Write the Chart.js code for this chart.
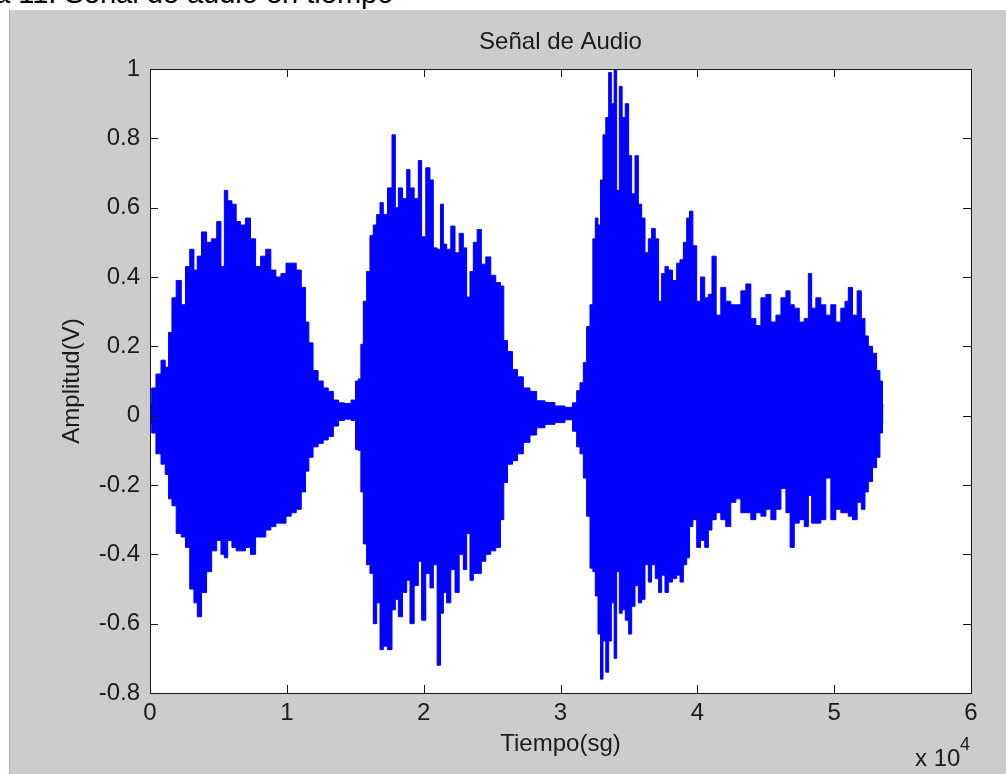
<!DOCTYPE html>
<html lang="es">
<head>
<meta charset="utf-8">
<title>Señal de Audio</title>
<script src="https://cdn.jsdelivr.net/npm/chart.js@4.4.1/dist/chart.umd.min.js"></script>
<style>
  html, body { margin: 0; padding: 0; background: #fff; }
  body { width: 1006px; height: 774px; position: relative; overflow: hidden; font-family: "Liberation Sans", Arial, sans-serif; }
  #caption { position: absolute; left: -6px; top: -21px; font-size: 29px; line-height: 29px; white-space: nowrap; color: #000; }
  #edge { position: absolute; left: 9px; top: 10px; width: 1px; height: 764px; background: #a8b096; }
  #panel { position: absolute; left: 10px; top: 10px; width: 996px; height: 764px; background: #cccccc; }
  #chart { position: absolute; left: 0; top: 0; }
  .exp { position: absolute; color: #1a1a1a; white-space: nowrap; }
  #expBase { left: 905px; top: 736px; font-size: 24px; line-height: 24px; }
  #expPow { left: 950px; top: 725px; font-size: 18px; line-height: 18px; }
</style>
</head>
<body>
<div id="caption">a 11. Señal de audio en tiempo</div>
<div id="edge"></div>
<div id="panel">
  <canvas id="chart" width="996" height="764"></canvas>
  <span class="exp" id="expBase">x 10</span>
  <span class="exp" id="expPow">4</span>
</div>
<script>
// Envolvente de la señal (muestras, amplitud en V)
const tiempo = [
  0, 250, 620, 990, 1235, 1480, 1730, 2100, 2470, 2720,
  3090, 3330, 3580, 3950, 4320, 4690, 5060, 5310, 5560, 5800,
  6175, 6420, 6790, 7160, 7530, 7900, 8275, 8645, 9015, 9385,
  9755, 10130, 10500, 10870, 11240, 11490, 11730, 12100, 12470, 12840,
  13210, 13590, 13960, 14450, 14940, 15100, 15350, 15470, 15710, 15950,
  16200, 16440, 16690, 16930, 17170, 17540, 17830, 18030, 18270, 18640,
  18880, 19120, 19490, 19730, 19970, 20340, 20580, 20830, 21140, 21320,
  21560, 21800, 22170, 22410, 22780, 23020, 23260, 23510, 23750, 24070,
  24360, 24720, 25090, 25450, 25770, 25940, 26310, 26670, 27040, 27530,
  28010, 28500, 29230, 29960, 30690, 31060, 31300, 31550, 31790, 32030,
  32280, 32450, 32640, 32840, 33010, 33200, 33420, 33620, 33810, 34030,
  34180, 34420, 34590, 34880, 35080, 35320, 35570, 35810, 36050, 36300,
  36540, 36780, 37070, 37270, 37510, 37760, 38000, 38370, 38610, 38860,
  39100, 39340, 39520, 39830, 40080, 40390, 40690, 40920, 41220, 41530,
  41900, 42260, 42630, 43000, 43360, 43730, 44090, 44460, 44830, 45190,
  45560, 45930, 46290, 46660, 46900, 47270, 47630, 48000, 48230, 48480,
  48840, 49210, 49570, 49940, 50300, 50670, 50910, 51160, 51520, 51840,
  52130, 52370, 52620, 52980, 53220, 53470, 53600
];
const ampMax = [
  0.035, 0.08, 0.12, 0.16, 0.14, 0.24, 0.34, 0.39, 0.32, 0.43,
  0.48, 0.42, 0.46, 0.53, 0.50, 0.51, 0.56, 0.43, 0.65, 0.62,
  0.61, 0.56, 0.55, 0.57, 0.51, 0.43, 0.46, 0.48, 0.42, 0.40,
  0.41, 0.44, 0.44, 0.42, 0.37, 0.27, 0.21, 0.13, 0.10, 0.08,
  0.07, 0.045, 0.037, 0.035, 0.045, 0.10, 0.106, 0.206, 0.33, 0.416,
  0.52, 0.55, 0.58, 0.615, 0.58, 0.657, 0.81, 0.60, 0.657, 0.626,
  0.71, 0.657, 0.626, 0.736, 0.516, 0.715, 0.68, 0.484, 0.48, 0.61,
  0.495, 0.48, 0.547, 0.47, 0.526, 0.484, 0.342, 0.416, 0.50, 0.537,
  0.437, 0.458, 0.405, 0.384, 0.374, 0.217, 0.185, 0.133, 0.112, 0.08,
  0.07, 0.043, 0.038, 0.028, 0.024, 0.037, 0.072, 0.095, 0.153, 0.257,
  0.32, 0.51, 0.57, 0.55, 0.68, 0.81, 0.86, 0.99, 0.90, 1.0,
  0.65, 0.95, 0.86, 0.90, 0.75, 0.64, 0.75, 0.61, 0.57, 0.47,
  0.51, 0.54, 0.51, 0.33, 0.41, 0.43, 0.42, 0.39, 0.44, 0.45,
  0.50, 0.57, 0.59, 0.49, 0.33, 0.40, 0.34, 0.35, 0.46, 0.29,
  0.37, 0.33, 0.32, 0.32, 0.36, 0.38, 0.28, 0.26, 0.34, 0.35,
  0.27, 0.29, 0.34, 0.36, 0.32, 0.31, 0.27, 0.28, 0.41, 0.31,
  0.34, 0.32, 0.29, 0.32, 0.27, 0.31, 0.33, 0.37, 0.29, 0.36,
  0.28, 0.23, 0.20, 0.18, 0.13, 0.10, 0.03
];
const ampMin = [
  -0.023, -0.05, -0.11, -0.14, -0.17, -0.24, -0.26, -0.34, -0.35, -0.38,
  -0.50, -0.54, -0.58, -0.51, -0.45, -0.39, -0.36, -0.40, -0.41, -0.36,
  -0.38, -0.39, -0.39, -0.38, -0.40, -0.35, -0.35, -0.33, -0.32, -0.31,
  -0.31, -0.29, -0.28, -0.27, -0.22, -0.16, -0.12, -0.09, -0.08, -0.07,
  -0.06, -0.03, -0.014, -0.01, -0.014, -0.098, -0.10, -0.22, -0.37, -0.43,
  -0.455, -0.60, -0.54, -0.675, -0.665, -0.675, -0.56, -0.53, -0.58, -0.51,
  -0.475, -0.60, -0.49, -0.42, -0.59, -0.455, -0.497, -0.43, -0.72, -0.57,
  -0.51, -0.54, -0.444, -0.51, -0.40, -0.444, -0.34, -0.475, -0.455, -0.455,
  -0.42, -0.40, -0.39, -0.38, -0.30, -0.193, -0.14, -0.13, -0.11, -0.077,
  -0.056, -0.035, -0.025, -0.02, -0.012, -0.045, -0.09, -0.11, -0.18, -0.29,
  -0.44, -0.45, -0.52, -0.63, -0.76, -0.65, -0.74, -0.65, -0.54, -0.70,
  -0.45, -0.57, -0.56, -0.59, -0.63, -0.55, -0.49, -0.54, -0.53, -0.43,
  -0.48, -0.43, -0.47, -0.51, -0.46, -0.51, -0.48, -0.47, -0.46, -0.48,
  -0.43, -0.41, -0.32, -0.30, -0.38, -0.36, -0.38, -0.33, -0.30, -0.28,
  -0.30, -0.32, -0.25, -0.24, -0.28, -0.28, -0.30, -0.28, -0.29, -0.27,
  -0.30, -0.27, -0.21, -0.28, -0.38, -0.31, -0.30, -0.32, -0.23, -0.31,
  -0.31, -0.30, -0.18, -0.30, -0.27, -0.28, -0.28, -0.29, -0.30, -0.25,
  -0.27, -0.22, -0.19, -0.15, -0.12, -0.05, -0.02
];
const xTickValues = [0, 10000, 20000, 30000, 40000, 50000, 60000];
const xTickLabels = ['0', '1', '2', '3', '4', '5', '6'];
const yTickValues = [-0.8, -0.6, -0.4, -0.2, 0, 0.2, 0.4, 0.6, 0.8, 1];
const yTickLabels = ['-0.8', '-0.6', '-0.4', '-0.2', '0', '0.2', '0.4', '0.6', '0.8', '1'];

const textColor = '#1a1a1a';
const axisFont = { family: '"Liberation Sans", Arial, sans-serif', size: 24, weight: 'normal' };

// MATLAB-style axes: white box, black frame, ticks pointing inward on all four sides
const matlabAxes = {
  id: 'matlabAxes',
  beforeDatasetsDraw(chart) {
    const { ctx, chartArea: a } = chart;
    ctx.save();
    ctx.fillStyle = '#ffffff';
    ctx.fillRect(a.left, a.top, a.right - a.left, a.bottom - a.top);
    ctx.restore();
  },
  afterDraw(chart) {
    const { ctx, chartArea: a, scales } = chart;
    const len = 8;
    ctx.save();
    ctx.strokeStyle = '#1a1a1a';
    ctx.lineWidth = 1;
    ctx.beginPath();
    xTickValues.forEach(v => {
      const x = Math.round(scales.x.getPixelForValue(v)) + 0.5;
      ctx.moveTo(x, a.bottom); ctx.lineTo(x, a.bottom - len);
      ctx.moveTo(x, a.top); ctx.lineTo(x, a.top + len);
    });
    yTickValues.forEach(v => {
      const y = Math.round(scales.y.getPixelForValue(v)) + 0.5;
      ctx.moveTo(a.left, y); ctx.lineTo(a.left + len, y);
      ctx.moveTo(a.right, y); ctx.lineTo(a.right - len, y);
    });
    ctx.stroke();
    ctx.strokeRect(Math.round(a.left) + 0.5, Math.round(a.top) + 0.5,
      Math.round(a.right - a.left), Math.round(a.bottom - a.top));
    ctx.restore();
  }
};

new Chart(document.getElementById('chart').getContext('2d'), {
  type: 'line',
  data: {
    datasets: [
      {
        label: 'max',
        data: tiempo.map((t, i) => ({ x: t, y: ampMax[i] })),
        borderColor: '#0000ff',
        backgroundColor: '#0000ff',
        borderWidth: 1,
        pointRadius: 0,
        stepped: 'middle',
        fill: '+1'
      },
      {
        label: 'min',
        data: tiempo.map((t, i) => ({ x: t, y: ampMin[i] })),
        borderColor: '#0000ff',
        backgroundColor: '#0000ff',
        borderWidth: 1,
        pointRadius: 0,
        stepped: 'middle',
        fill: false
      }
    ]
  },
  options: {
    responsive: false,
    animation: false,
    events: [],
    layout: { padding: { left: 0, right: 35, top: 0, bottom: 0 } },
    plugins: {
      legend: { display: false },
      tooltip: { enabled: false },
      title: { display: false }
    },
    scales: {
      x: {
        type: 'linear',
        min: 0,
        max: 60000,
        afterFit: s => { s.height = 81; },
        afterBuildTicks: s => { s.ticks = xTickValues.map(v => ({ value: v })); },
        ticks: {
          callback: v => xTickLabels[xTickValues.indexOf(v)],
          color: textColor,
          font: axisFont,
          padding: 6,
          maxRotation: 0,
          autoSkip: false
        },
        grid: { display: false, drawTicks: false },
        border: { display: false },
        title: {
          display: true,
          text: 'Tiempo(sg)',
          color: textColor,
          font: axisFont,
          padding: { top: 0, bottom: 15.6 }
        }
      },
      // top axis only carries the plot title, centred over the axes box like MATLAB
      xTop: {
        type: 'linear',
        position: 'top',
        min: 0,
        max: 60000,
        afterFit: s => { s.height = 59; },
        ticks: { display: false },
        grid: { display: false, drawTicks: false },
        border: { display: false },
        title: {
          display: true,
          text: 'Señal de Audio',
          color: textColor,
          font: axisFont,
          padding: { top: 17.6, bottom: 0 }
        }
      },
      y: {
        type: 'linear',
        min: -0.8,
        max: 1,
        afterFit: s => { s.width = 140; },
        afterBuildTicks: s => { s.ticks = yTickValues.map(v => ({ value: v })); },
        ticks: {
          callback: v => yTickLabels[yTickValues.findIndex(t => Math.abs(t - v) < 1e-9)],
          color: textColor,
          font: axisFont,
          padding: 10,
          autoSkip: false
        },
        grid: { display: false, drawTicks: false },
        border: { display: false },
        title: {
          display: true,
          text: 'Amplitud(V)',
          color: textColor,
          font: axisFont,
          padding: { top: 47.6, bottom: 0 }
        }
      }
    }
  },
  plugins: [matlabAxes]
});
</script>
</body>
</html>
